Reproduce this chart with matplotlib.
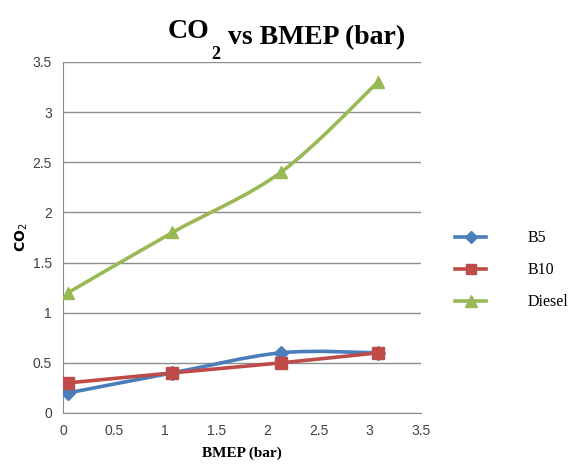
import numpy as np
import matplotlib as mpl; mpl.use("Agg")
import matplotlib.pyplot as plt
from matplotlib.path import Path
from matplotlib.patches import PathPatch
from matplotlib.lines import Line2D

bmep = [0.05, 1.07, 2.13, 3.08]
b5 = [0.2, 0.4, 0.6, 0.6]
b10 = [0.3, 0.4, 0.5, 0.6]
diesel = [1.2, 1.8, 2.4, 3.3]
names = ["B5", "B10", "Diesel"]
ticks = [0, 0.5, 1, 1.5, 2, 2.5, 3, 3.5]

C = {"B5": "#4a7ebb", "B10": "#be4b48", "Diesel": "#98b954", "grid": "#8c8c8c", "tick": "#404040"}
MK = {"B5": ("D", 7), "B10": ("s", 8), "Diesel": ("^", 9)}


def smooth_path(x, y):
    # Excel-style smoothed line: Catmull-Rom segments as cubic Bezier
    p = np.column_stack([x, y]).astype(float)
    n = len(p)
    verts = [p[0]]; codes = [Path.MOVETO]
    for i in range(n - 1):
        p0 = p[i - 1] if i > 0 else p[i]
        p3 = p[i + 2] if i + 2 < n else p[i + 1]
        c1 = p[i] + (p[i + 1] - p0) / 6
        c2 = p[i + 1] - (p3 - p[i]) / 6
        verts += [c1, c2, p[i + 1]]; codes += [Path.CURVE4] * 3
    return Path(verts, codes)


fig = plt.figure(figsize=(5.69, 4.74), dpi=100)
ax = fig.add_axes([0.1107, 0.1287, 0.629, 0.7405])

for nm, ys in zip(names, [b5, b10, diesel]):
    ax.add_patch(PathPatch(smooth_path(bmep, ys), fill=False, edgecolor=C[nm], lw=2.6,
                           capstyle="round", zorder=3))
    m, ms = MK[nm]
    ax.plot(bmep, ys, ls="none", marker=m, ms=ms, color=C[nm], zorder=4)

ax.set_xlim(0, 3.5); ax.set_ylim(0, 3.5)
ax.set_xticks(ticks); ax.set_yticks(ticks)
ax.set_xticklabels([f"{t:g}" for t in ticks]); ax.set_yticklabels([f"{t:g}" for t in ticks])
ax.grid(axis="y", color=C["grid"], lw=1.0)
ax.set_axisbelow(True)
for s in ["top", "right"]:
    ax.spines[s].set_visible(False)
for s in ["left", "bottom"]:
    ax.spines[s].set_color(C["grid"])
ax.tick_params(length=0, labelsize=10, labelcolor=C["tick"], pad=8)
for lab in ax.get_xticklabels() + ax.get_yticklabels():
    lab.set_family("Liberation Sans")

ax.set_xlabel("BMEP (bar)", family="Liberation Serif", weight="bold", fontsize=11, labelpad=6)
ax.set_ylabel("CO$_2$", family="DejaVu Sans", weight="bold", fontsize=10, labelpad=2)

# title with a dropped subscript
t1 = fig.text(0.295, 0.92, "CO", family="Liberation Serif", weight="bold", fontsize=20,
              ha="left", va="baseline")
ax.annotate("2", xy=(1, 0), xycoords=t1, xytext=(1, -11), textcoords="offset points",
            family="Liberation Serif", weight="bold", fontsize=13, ha="left", va="baseline",
            annotation_clip=False)
ax.annotate(" vs BMEP (bar)", xy=(1, 0), xycoords=t1, xytext=(8, 0), textcoords="offset points",
            family="Liberation Serif", weight="bold", fontsize=20, ha="left", va="baseline",
            annotation_clip=False)

handles = [Line2D([], [], color=C[nm], lw=2.6, marker=MK[nm][0], ms=MK[nm][1] - 1) for nm in names]
fig.legend(handles, names, loc="center left", bbox_to_anchor=(0.775, 0.43), frameon=False,
           prop={"family": "Liberation Serif", "size": 11.5}, handlelength=1.9,
           handletextpad=2.6, labelspacing=1.0)

fig.savefig("out.png", dpi=100, facecolor="white")
